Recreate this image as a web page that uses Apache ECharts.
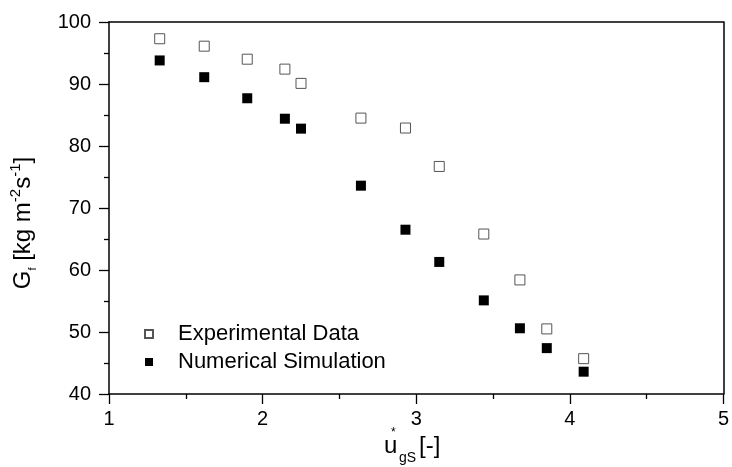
<!DOCTYPE html>
<html>
<head>
<meta charset="utf-8">
<script src="https://cdn.jsdelivr.net/npm/echarts@6/dist/echarts.min.js"></script>
<style>
  html, body { margin: 0; padding: 0; background: #fff; }
  #chart { width: 732px; height: 467px; }
</style>
</head>
<body>
<div id="chart"></div>
<script>
// Superficial gas velocity u*_gS [-]
const ugs = [1.33, 1.62, 1.90, 2.145, 2.25, 2.64, 2.93, 3.15, 3.44, 3.675, 3.85, 4.09];
// Liquid mass flux G_f [kg m^-2 s^-1]
const experimental = [97.3, 96.1, 94.0, 92.4, 90.1, 84.5, 82.9, 76.7, 65.8, 58.4, 50.5, 45.7];
const numerical = [93.8, 91.1, 87.7, 84.4, 82.8, 73.6, 66.5, 61.3, 55.1, 50.6, 47.4, 43.6];
const xTicks = [1, 2, 3, 4, 5];
const yTicks = [40, 50, 60, 70, 80, 90, 100];

const FONT = 'Liberation Sans, Arial, sans-serif';
const pairs = (xs, ys) => xs.map((x, i) => [x, ys[i]]);

const chart = echarts.init(document.getElementById('chart'), null, { renderer: 'canvas' });

const axisLine = { show: true, onZero: false, lineStyle: { color: '#000', width: 1.5 } };
const majorTick = { show: true, length: 10, inside: false, lineStyle: { color: '#000', width: 1.3 } };
const minorTick = { show: true, splitNumber: 2, length: 5, lineStyle: { color: '#000', width: 1.3 } };

chart.setOption({
  animation: false,
  backgroundColor: '#fff',
  textStyle: { fontFamily: FONT },
  grid: { left: 105, right: 7, top: 22, bottom: 73, containLabel: false },
  legend: {
    orient: 'vertical',
    left: 139,
    top: 318,
    itemWidth: 8,
    itemHeight: 8,
    itemGap: 6,
    icon: 'rect',
    textStyle: { fontFamily: FONT, fontSize: 22, lineHeight: 22, color: '#000', padding: [0, 0, 0, 20] },
    data: ['Experimental Data', 'Numerical Simulation']
  },
  xAxis: [{
    type: 'value',
    min: xTicks[0], max: xTicks[xTicks.length - 1], interval: 1,
    axisLine: axisLine,
    axisTick: majorTick,
    minorTick: minorTick,
    axisLabel: { color: '#000', fontSize: 20, fontFamily: FONT, margin: 15 },
    splitLine: { show: false }
  }, {
    type: 'value', position: 'top',
    min: xTicks[0], max: xTicks[xTicks.length - 1],
    axisLine: axisLine, axisTick: { show: false }, axisLabel: { show: false }, splitLine: { show: false }
  }],
  yAxis: [{
    type: 'value',
    min: yTicks[0], max: yTicks[yTicks.length - 1], interval: 10,
    axisLine: axisLine,
    axisTick: majorTick,
    minorTick: minorTick,
    axisLabel: { color: '#000', fontSize: 20, fontFamily: FONT, margin: 18 },
    splitLine: { show: false },
    name: '{a|G}{sub|f}{a| [kg m}{sup|-2}{a|s}{sup|-1}{a|]}',
    nameLocation: 'middle',
    nameRotate: 90,
    nameGap: 71,
    nameTextStyle: {
      fontFamily: FONT,
      padding: [0, 30, 0, 0],
      rich: {
        a: { fontSize: 24, color: '#000', fontFamily: FONT, lineHeight: 30, verticalAlign: 'middle' },
        sub: { fontSize: 11, color: '#000', fontFamily: FONT, verticalAlign: 'bottom', lineHeight: 30 },
        sup: { fontSize: 15, color: '#000', fontFamily: FONT, verticalAlign: 'top', lineHeight: 30 }
      }
    }
  }, {
    type: 'value', position: 'right',
    min: yTicks[0], max: yTicks[yTicks.length - 1],
    axisLine: axisLine, axisTick: { show: false }, axisLabel: { show: false }, splitLine: { show: false }
  }],
  graphic: [
    { type: 'text', left: 384, top: 434, style: { text: 'u', font: '24px ' + FONT, fill: '#000' } },
    { type: 'text', left: 391, top: 427, style: { text: '*', font: '12px ' + FONT, fill: '#000' } },
    { type: 'text', left: 399, top: 451, style: { text: 'gS', font: '14px ' + FONT, fill: '#000' } },
    { type: 'text', left: 419, top: 434, style: { text: '[-]', font: '24px ' + FONT, fill: '#000' } }
  ],
  series: [{
    name: 'Experimental Data',
    type: 'scatter',
    symbol: 'rect',
    symbolSize: 10,
    itemStyle: { color: '#fff', borderColor: '#555', borderWidth: 1, opacity: 1 },
    data: pairs(ugs, experimental)
  }, {
    name: 'Numerical Simulation',
    type: 'scatter',
    symbol: 'rect',
    symbolSize: 10,
    itemStyle: { color: '#000', borderColor: '#000', borderWidth: 0, opacity: 1 },
    data: pairs(ugs, numerical)
  }]
});
</script>
</body>
</html>
